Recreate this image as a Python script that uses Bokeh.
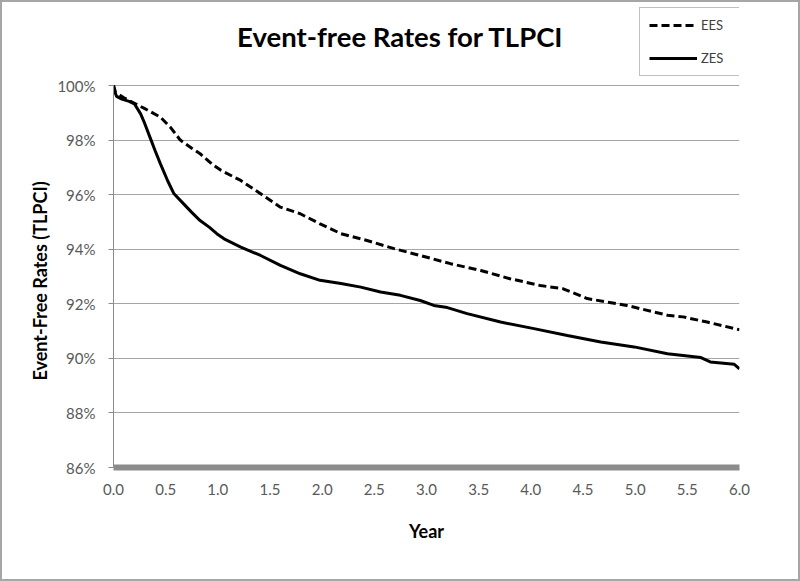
from bokeh.plotting import figure
from bokeh.models import Label, Legend, LegendItem, FixedTicker, Range1d
from bokeh.embed import file_html
from bokeh.resources import INLINE

# ---- data ----
ees_year = [0, 0.02, 0.1, 0.2, 0.3, 0.45, 0.55, 0.64, 0.75, 0.83, 0.95, 1.03, 1.22, 1.41, 1.6, 1.79,
            1.98, 2.18, 2.43, 2.69, 2.94, 3.23, 3.52, 3.8, 4.09, 4.31, 4.54, 4.92, 5.31, 5.46, 5.69, 6.0]
ees_rate = [100, 99.75, 99.55, 99.35, 99.15, 98.84, 98.45, 98.0, 97.7, 97.5, 97.1, 96.89, 96.52, 96.03,
            95.54, 95.3, 94.93, 94.57, 94.32, 94.02, 93.77, 93.47, 93.22, 92.92, 92.67, 92.55, 92.19,
            91.94, 91.58, 91.52, 91.33, 91.05]
zes_year = [0, 0.01, 0.03, 0.08, 0.15, 0.2, 0.26, 0.3, 0.35, 0.4, 0.45, 0.52, 0.58, 0.67, 0.75, 0.83,
            0.92, 0.99, 1.06, 1.22, 1.41, 1.6, 1.79, 1.98, 2.18, 2.37, 2.56, 2.75, 2.94, 3.07, 3.2, 3.39,
            3.71, 4.03, 4.35, 4.67, 4.99, 5.31, 5.63, 5.72, 5.95, 6.0]
zes_rate = [100, 99.8, 99.6, 99.5, 99.42, 99.33, 98.96, 98.6, 98.1, 97.6, 97.13, 96.5, 96.03, 95.67,
            95.35, 95.05, 94.8, 94.57, 94.38, 94.08, 93.77, 93.41, 93.1, 92.86, 92.74, 92.61, 92.43,
            92.31, 92.12, 91.94, 91.86, 91.64, 91.33, 91.09, 90.84, 90.6, 90.42, 90.17, 90.03, 89.87,
            89.78, 89.62]
x_ticks = [0, 0.5, 1, 1.5, 2, 2.5, 3, 3.5, 4, 4.5, 5, 5.5, 6]
y_ticks = [86, 88, 90, 92, 94, 96, 98, 100]

title_text = "Event-free Rates for TLPCI"
x_title = "Year"
y_title = "Event-Free Rates (TLPCI)"

FONT = "Lato"

# plot area: 382 px tall for 86..100 %, plus 83 px of headroom above it for the title and legend
Y_MIN, Y_MAX = 86, 100
HEADROOM_PX, AXIS_PX = 83, 382
y_top = Y_MAX + (Y_MAX - Y_MIN) * HEADROOM_PX / AXIS_PX

p = figure(width=800, height=581, output_backend="svg", toolbar_location=None,
           x_range=Range1d(0, 6), y_range=Range1d(Y_MIN, y_top),
           min_border_left=111, min_border_right=63, min_border_top=0, min_border_bottom=116)
p.outline_line_color = None
p.background_fill_color = "white"
p.border_fill_color = "white"
p.styles = {"border": "2px solid #a6a6a6", "box-sizing": "border-box"}

# grid
p.xgrid.grid_line_color = None
p.ygrid.grid_line_color = "#a6a6a6"
p.ygrid.grid_line_width = 1
p.ygrid.ticker = FixedTicker(ticks=y_ticks)

# x axis
p.xaxis.ticker = FixedTicker(ticks=x_ticks)
p.xaxis.major_label_overrides = {t: f"{t:.1f}" for t in x_ticks}
p.xaxis.axis_line_color = "#8c8c8c"
p.xaxis.axis_line_width = 6
p.xaxis.major_tick_line_color = None
p.xaxis.minor_tick_line_color = None
p.xaxis.major_label_standoff = 10
p.xaxis.major_label_text_font = FONT
p.xaxis.major_label_text_font_size = "15px"
p.xaxis.major_label_text_color = "#595959"
p.xaxis.axis_label = x_title
p.xaxis.axis_label_text_font = FONT
p.xaxis.axis_label_text_font_size = "18px"
p.xaxis.axis_label_text_font_style = "bold"
p.xaxis.axis_label_text_color = "black"
p.xaxis.axis_label_standoff = 22

# y axis
p.yaxis.bounds = (Y_MIN, Y_MAX)
p.yaxis.ticker = FixedTicker(ticks=y_ticks)
p.yaxis.major_label_overrides = {t: f"{t}%" for t in y_ticks}
p.yaxis.axis_line_color = "#8c8c8c"
p.yaxis.axis_line_width = 1
p.yaxis.major_tick_line_color = "#8c8c8c"
p.yaxis.major_tick_out = 5
p.yaxis.major_tick_in = 0
p.yaxis.minor_tick_line_color = None
p.yaxis.major_label_standoff = 13
p.yaxis.major_label_text_font = FONT
p.yaxis.major_label_text_font_size = "15px"
p.yaxis.major_label_text_color = "#595959"
# trailing no-break spaces centre the visible title on the 86-100 % span rather than the whole area
p.yaxis.axis_label = y_title + "\u00a0" * 21
p.yaxis.axis_label_text_font = FONT
p.yaxis.axis_label_text_font_size = "18px"
p.yaxis.axis_label_text_font_style = "bold"
p.yaxis.axis_label_text_color = "black"
p.yaxis.axis_label_standoff = 3

r_ees = p.line(ees_year, ees_rate, line_color="black", line_width=3, line_dash="8 4")
r_zes = p.line(zes_year, zes_rate, line_color="black", line_width=3)

# title, placed in the headroom of the plot area (screen px from the plot area's bottom-left)
p.add_layout(Label(x=287, y=431, x_units="screen", y_units="screen", text=title_text,
                   text_font=FONT, text_font_size="27.5px", text_font_style="bold",
                   text_align="center", text_baseline="middle", text_color="black"))

legend = Legend(items=[LegendItem(label="EES", renderers=[r_ees]),
                       LegendItem(label="ZES", renderers=[r_zes])],
                location=(526, 391), orientation="vertical",
                border_line_color="#808080", border_line_width=1,
                background_fill_alpha=1, background_fill_color="white",
                padding=9, spacing=17, margin=0,
                glyph_width=48, glyph_height=16, label_height=16, label_width=29,
                label_standoff=4, label_text_font=FONT, label_text_font_size="13px",
                label_text_color="#404040")
p.add_layout(legend, "center")

open("out.html", "w").write(file_html(p, INLINE))
